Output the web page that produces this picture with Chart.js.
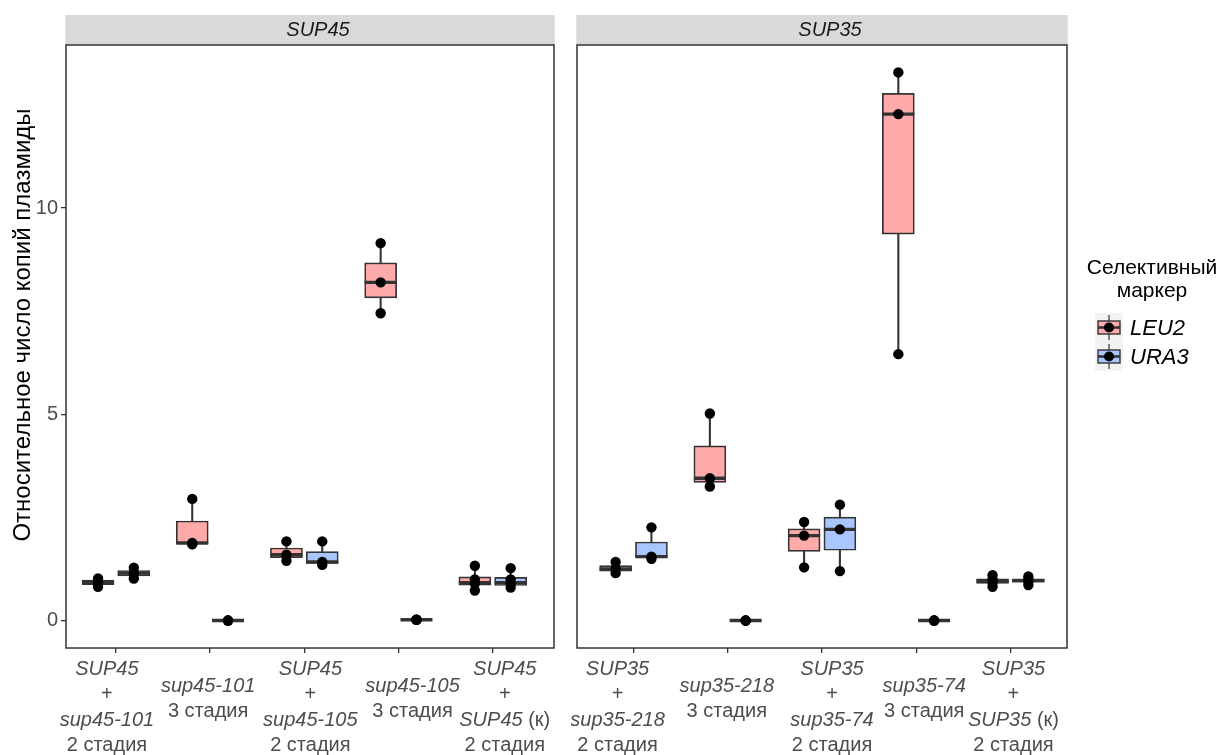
<!DOCTYPE html>
<html>
<head>
<meta charset="utf-8">
<script src="https://cdn.jsdelivr.net/npm/chart.js@4.4.1/dist/chart.umd.min.js"></script>
<style>
  html, body { margin: 0; padding: 0; background: #fff; }
  body { width: 1221px; height: 755px; position: relative; overflow: hidden; }
  .panel { position: absolute; top: 0; height: 755px; }
  #wrapA { left: 0; width: 560px; }
  #wrapB { left: 571px; width: 650px; }
</style>
</head>
<body>
<div class="panel" id="wrapA"><canvas id="chartA"></canvas></div>
<div class="panel" id="wrapB"><canvas id="chartB"></canvas></div>
<script>
// x labels: text between * is italic
const sup45Labels = [
  ['*SUP45*', '+', '*sup45-101*', '2 стадия'],
  ['*sup45-101*', '3 стадия'],
  ['*SUP45*', '+', '*sup45-105*', '2 стадия'],
  ['*sup45-105*', '3 стадия'],
  ['*SUP45*', '+', '*SUP45* (к)', '2 стадия'],
];
const sup35Labels = [
  ['*SUP35*', '+', '*sup35-218*', '2 стадия'],
  ['*sup35-218*', '3 стадия'],
  ['*SUP35*', '+', '*sup35-74*', '2 стадия'],
  ['*sup35-74*', '3 стадия'],
  ['*SUP35*', '+', '*SUP35* (к)', '2 стадия'],
];
const markers = ['LEU2', 'URA3'];
const yTicks = [0, 5, 10];

// [lower whisker, Q1, median, Q3, upper whisker]
const sup45Leu2Box = [
  [0.82, 0.87, 0.93, 0.98, 1.02],
  [1.85, 1.865, 1.88, 2.415, 2.95],
  [1.45, 1.525, 1.6, 1.76, 1.92],
  [7.45, 7.825, 8.2, 8.675, 9.15],
  [0.73, 0.86, 0.92, 1.06, 1.33],
];
const sup45Ura3Box = [
  [1.02, 1.085, 1.15, 1.215, 1.28],
  [0, 0, 0, 0, 0],
  [1.35, 1.385, 1.42, 1.67, 1.92],
  [0.02, 0.02, 0.02, 0.02, 0.02],
  [0.8, 0.85, 0.92, 1.05, 1.27],
];
const sup35Leu2Box = [
  [1.15, 1.2, 1.25, 1.335, 1.42],
  [3.25, 3.35, 3.45, 4.235, 5.02],
  [1.29, 1.675, 2.06, 2.225, 2.39],
  [6.46, 9.37, 12.28, 12.785, 13.29],
  [0.82, 0.9, 0.96, 1.01, 1.1],
];
const sup35Ura3Box = [
  [1.5, 1.525, 1.55, 1.905, 2.26],
  [0, 0, 0, 0, 0],
  [1.2, 1.705, 2.21, 2.51, 2.81],
  [0, 0, 0, 0, 0],
  [0.86, 0.93, 0.97, 1.0, 1.07],
];

// individual measurements
const sup45Leu2Pts = [[0.82, 0.93, 1.02], [1.85, 1.88, 2.95], [1.45, 1.6, 1.92], [7.45, 8.2, 9.15], [0.73, 0.9, 1.0, 1.33]];
const sup45Ura3Pts = [[1.02, 1.15, 1.28], [0, 0, 0], [1.35, 1.42, 1.92], [0.02, 0.02, 0.02], [0.8, 0.9, 1.0, 1.27]];
const sup35Leu2Pts = [[1.15, 1.25, 1.42], [3.25, 3.45, 5.02], [1.29, 2.06, 2.39], [6.46, 12.28, 13.29], [0.82, 0.92, 1.0, 1.1]];
const sup35Ura3Pts = [[1.5, 1.55, 2.26], [0, 0, 0], [1.2, 2.21, 2.81], [0, 0, 0], [0.86, 0.95, 1.0, 1.07]];

const FONT = '"Liberation Sans", Arimo, Arial, sans-serif';
const INK = '#333333';
const FILL = { LEU2: '#FFAAAA', URA3: '#AAC6FF' };
const DODGE = 0.19;
const Y_MIN = -0.665;
const Y_MAX = 13.955;

Chart.defaults.font.family = FONT;

function richLine(ctx, line, cx, cy, size, color) {
  const parts = line.split('*');
  const fonts = parts.map(function (p, i) { return (i % 2 ? 'italic ' : '') + size + 'px ' + FONT; });
  let total = 0;
  parts.forEach(function (p, i) { ctx.font = fonts[i]; total += ctx.measureText(p).width; });
  let x = cx - total / 2;
  ctx.fillStyle = color;
  ctx.textAlign = 'left';
  ctx.textBaseline = 'middle';
  parts.forEach(function (p, i) {
    ctx.font = fonts[i];
    ctx.fillText(p, x, cy);
    x += ctx.measureText(p).width;
  });
}

function boxDatasets(boxes, pts, offset, color) {
  const xs = boxes.map(function (b, i) { return i + offset; });
  return [
    {
      type: 'bar',
      data: boxes.map(function (b, i) { return { x: xs[i], y: [b[0], b[4]] }; }),
      backgroundColor: INK,
      barThickness: 1.4,
      grouped: false,
      order: 5,
    },
    {
      type: 'bar',
      data: boxes.map(function (b, i) { return { x: xs[i], y: [b[1], b[3]] }; }),
      backgroundColor: color,
      borderColor: INK,
      borderWidth: 1.7,
      borderSkipped: false,
      barThickness: 32,
      grouped: false,
      order: 4,
    },
    {
      type: 'scatter',
      data: boxes.map(function (b, i) { return { x: xs[i], y: b[2] }; }),
      pointStyle: 'line',
      pointRadius: 16,
      borderColor: INK,
      borderWidth: 3.4,
      order: 3,
    },
    {
      type: 'scatter',
      data: pts.flatMap(function (p, i) { return p.map(function (v) { return { x: xs[i], y: v }; }); }),
      pointRadius: 5.2,
      backgroundColor: '#000',
      borderWidth: 0,
      order: 1,
    },
  ];
}

function makePanel(canvasId, cfg) {
  const decor = {
    id: 'decor',
    afterDraw(chart) {
      const ctx = chart.ctx;
      const a = chart.chartArea;
      ctx.save();
      // strip
      ctx.fillStyle = '#D9D9D9';
      ctx.fillRect(a.left - 0.75, 15, a.right - a.left + 1.5, 30);
      richLine(ctx, '*' + cfg.strip + '*', (a.left + a.right) / 2 + 8, 30.5, 20, '#1A1A1A');
      // panel border
      ctx.strokeStyle = INK;
      ctx.lineWidth = 1.5;
      ctx.strokeRect(a.left, a.top, a.right - a.left, a.bottom - a.top);
      // category labels
      const xs = chart.scales.x;
      cfg.labels.forEach(function (lines, i) {
        const cx = xs.getPixelForValue(i) + cfg.labelShift[i];
        const y0 = lines.length > 2 ? 669 : 686;
        lines.forEach(function (ln, k) {
          richLine(ctx, ln, cx, y0 + k * 25.5, 20, '#4D4D4D');
        });
      });
      if (cfg.extra) cfg.extra(ctx, chart);
      ctx.restore();
    },
  };

  return new Chart(document.getElementById(canvasId), {
    type: 'bar',
    data: {
      datasets: []
        .concat(boxDatasets(cfg.leuBox, cfg.leuPts, -DODGE, FILL.LEU2))
        .concat(boxDatasets(cfg.uraBox, cfg.uraPts, DODGE, FILL.URA3)),
    },
    options: {
      responsive: true,
      maintainAspectRatio: false,
      animation: false,
      events: [],
      layout: { padding: cfg.padding, autoPadding: false },
      plugins: { legend: { display: false }, tooltip: { enabled: false } },
      scales: {
        x: {
          type: 'linear',
          min: cfg.xMin,
          max: cfg.xMax,
          offset: false,
          afterBuildTicks: function (s) { s.ticks = cfg.labels.map(function (l, i) { return { value: i }; }); },
          afterFit: function (s) { s.height = 107; s.paddingLeft = 0; s.paddingRight = 0; },
          ticks: { display: false },
          grid: { offset: false, drawOnChartArea: false, color: INK, lineWidth: 1.3, tickLength: 5 },
          border: { display: false },
        },
        y: {
          type: 'linear',
          min: Y_MIN,
          max: Y_MAX,
          display: cfg.showY,
          afterBuildTicks: function (s) { s.ticks = yTicks.map(function (v) { return { value: v }; }); },
          afterFit: function (s) { s.width = cfg.showY ? 66 : 0; s.paddingTop = 0; s.paddingBottom = 0; },
          ticks: { color: '#4D4D4D', font: { size: 20 }, padding: 3 },
          grid: { drawOnChartArea: false, color: INK, lineWidth: 1.3, tickLength: 5 },
          border: { display: false },
        },
      },
    },
    plugins: [decor],
  });
}

function drawYTitle(ctx) {
  ctx.save();
  ctx.translate(23, 325);
  ctx.rotate(-Math.PI / 2);
  ctx.font = '24px ' + FONT;
  ctx.fillStyle = '#000';
  ctx.textAlign = 'center';
  ctx.textBaseline = 'middle';
  ctx.fillText('Относительное число копий плазмиды', 0, 0);
  ctx.restore();
}

function drawLegend(ctx) {
  const ox = 571;
  ctx.save();
  ctx.font = '21px ' + FONT;
  ctx.fillStyle = '#000';
  ctx.textAlign = 'center';
  ctx.textBaseline = 'middle';
  ctx.fillText('Селективный', 1152 - ox, 268);
  ctx.fillText('маркер', 1152 - ox, 291);
  markers.forEach(function (m, i) {
    const kx = 1095 - ox;
    const ky = 313 + i * 29;
    const cx = kx + 14;
    const cy = ky + 14.5;
    ctx.fillStyle = '#F2F2F2';
    ctx.fillRect(kx, ky, 28, 29);
    ctx.strokeStyle = INK;
    ctx.lineWidth = 1.2;
    ctx.beginPath();
    ctx.moveTo(cx, ky + 2);
    ctx.lineTo(cx, ky + 27);
    ctx.stroke();
    ctx.fillStyle = FILL[m];
    ctx.fillRect(kx + 3, cy - 6.5, 22, 13);
    ctx.lineWidth = 1.4;
    ctx.strokeRect(kx + 3, cy - 6.5, 22, 13);
    ctx.lineWidth = 2.6;
    ctx.beginPath();
    ctx.moveTo(kx + 3, cy);
    ctx.lineTo(kx + 25, cy);
    ctx.stroke();
    ctx.fillStyle = '#000';
    ctx.beginPath();
    ctx.arc(cx, cy, 5, 0, Math.PI * 2);
    ctx.fill();
    ctx.font = 'italic 22px ' + FONT;
    ctx.textAlign = 'left';
    ctx.fillText(m, 1130 - ox, cy + 1);
  });
  ctx.restore();
}

makePanel('chartA', {
  strip: 'SUP45',
  labels: sup45Labels,
  leuBox: sup45Leu2Box, uraBox: sup45Ura3Box,
  leuPts: sup45Leu2Pts, uraPts: sup45Ura3Pts,
  xMin: -0.53, xMax: 4.65,
  padding: { top: 45, right: 6, left: 0, bottom: 0 },
  showY: true,
  labelShift: [-9, -2, 6, 14, 12],
  extra: drawYTitle,
});

makePanel('chartB', {
  strip: 'SUP35',
  labels: sup35Labels,
  leuBox: sup35Leu2Box, uraBox: sup35Ura3Box,
  leuPts: sup35Leu2Pts, uraPts: sup35Ura3Pts,
  xMin: -0.6, xMax: 4.6,
  padding: { top: 45, right: 154, left: 6, bottom: 0 },
  showY: false,
  labelShift: [-16, -1, 10, 8, 3],
  extra: drawLegend,
});
</script>
</body>
</html>
